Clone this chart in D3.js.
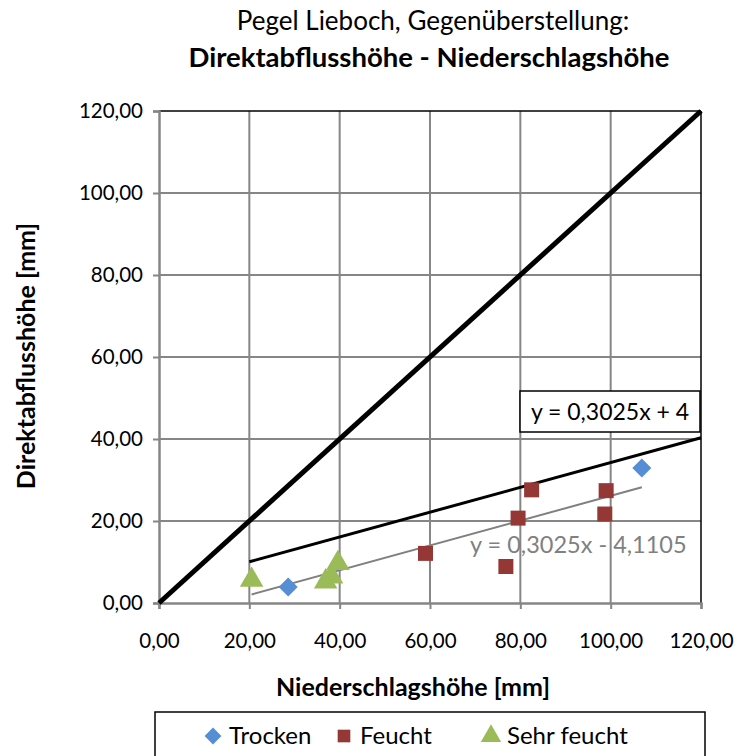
<!DOCTYPE html>
<html><head><meta charset="utf-8">
<script src="https://cdn.jsdelivr.net/npm/d3@7"></script>
<style>body{margin:0;background:#fff}svg{display:block}text{font-family:Lato,"Open Sans",sans-serif}</style>
</head><body>
<svg id="c" width="741" height="756"></svg>
<script>
const ticks = [0, 20, 40, 60, 80, 100, 120];
const trockenX = [28.6, 106.9];
const trockenY = [3.9, 32.9];
const feuchtX = [59.0, 76.8, 79.5, 82.5, 98.7, 99.0];
const feuchtY = [12.1, 8.9, 20.7, 27.6, 21.7, 27.4];
const sehrX = [20.5, 36.9, 38.2, 39.6];
const sehrY = [5.6, 5.2, 6.4, 9.7];
const trendSlope = 0.3025, trendIntercept = -4.1105;
const refSlope = 0.3025, refIntercept = 4;
const seriesNames = ["Trocken", "Feucht", "Sehr feucht"];

const svg = d3.select("#c");
const x = d3.scaleLinear().domain([0, 120]).range([159, 701]);
const y = d3.scaleLinear().domain([0, 120]).range([603, 111]);
const fmt = v => d3.format(".2f")(v).replace(".", ",");

// grid
svg.append("g").selectAll("line").data(ticks.slice(1, -1)).join("line")
  .attr("x1", d => x(d)).attr("x2", d => x(d)).attr("y1", y(0)).attr("y2", y(120))
  .attr("stroke", "#868686").attr("stroke-width", 2);
svg.append("g").selectAll("line").data(ticks.slice(1, -1)).join("line")
  .attr("y1", d => y(d)).attr("y2", d => y(d)).attr("x1", x(0)).attr("x2", x(120))
  .attr("stroke", "#868686").attr("stroke-width", 2);
// top & right border
svg.append("line").attr("x1", x(0)).attr("x2", x(120)).attr("y1", y(120)).attr("y2", y(120)).attr("stroke", "#000").attr("stroke-width", 1.5);
svg.append("line").attr("x1", x(120)).attr("x2", x(120)).attr("y1", y(0)).attr("y2", y(120)).attr("stroke", "#000").attr("stroke-width", 1.5);

// axes
const xa = svg.append("g").attr("transform", `translate(0,${y(0)})`)
  .call(d3.axisBottom(x).tickValues(ticks).tickSize(6).tickPadding(24).tickFormat(fmt));
const ya = svg.append("g").attr("transform", `translate(${x(0)},0)`)
  .call(d3.axisLeft(y).tickValues(ticks).tickSize(6).tickPadding(10).tickFormat(fmt));
[xa, ya].forEach(a => {
  a.select(".domain").attr("stroke", "#868686").attr("stroke-width", 2.5);
  a.selectAll(".tick line").attr("stroke", "#868686").attr("stroke-width", 2);
  a.selectAll(".tick text").attr("font-size", 20.5).attr("fill", "#000").style("font-family", "Lato");
});

// thick 1:1 line
const line = d3.line().x(d => x(d[0])).y(d => y(d[1]));
svg.append("path").datum([[0, 0], [120, 120]]).attr("d", line)
  .attr("stroke", "#000").attr("stroke-width", 5).attr("fill", "none");
// reference line y = 0.3025x + 4
svg.append("path").datum([20, 120].map(v => [v, refSlope * v + refIntercept])).attr("d", line)
  .attr("stroke", "#000").attr("stroke-width", 3).attr("fill", "none");
// trend line
const allX = trockenX.concat(feuchtX, sehrX);
const tx = d3.extent(allX);
svg.append("path").datum(tx.map(v => [v, trendSlope * v + trendIntercept])).attr("d", line)
  .attr("stroke", "#808080").attr("stroke-width", 2).attr("fill", "none");

// points
const colors = ["#558ED5", "#953735", "#9BBB59"];
const sym = [d3.symbolDiamond2, d3.symbolSquare, d3.symbolTriangle];
function pts(xs, ys, i, size) {
  svg.append("g").selectAll("path").data(xs.map((v, k) => [v, ys[k]])).join("path")
    .attr("transform", d => `translate(${x(d[0])},${y(d[1])})`)
    .attr("d", d3.symbol(sym[i], size)).attr("fill", colors[i]);
}
pts(trockenX, trockenY, 0, 230);
pts(feuchtX, feuchtY, 1, 225);
pts(sehrX, sehrY, 2, 240);

// equation labels
const bx = 520, by = 391;
svg.append("rect").attr("x", bx).attr("y", by).attr("width", 180).attr("height", 41)
  .attr("fill", "#fff").attr("stroke", "#000").attr("stroke-width", 1.5);
svg.append("text").attr("x", bx + 90).attr("y", by + 29).attr("text-anchor", "middle")
  .attr("font-size", 23).text("y = 0,3025x + 4");
svg.append("text").attr("x", 470).attr("y", 553).attr("font-size", 23.5).attr("fill", "#808080")
  .text("y = 0,3025x - 4,1105");

// titles
svg.append("text").attr("x", 433).attr("y", 30).attr("text-anchor", "middle").attr("font-size", 26).text("Pegel Lieboch, Gegenüberstellung:");
svg.append("text").attr("x", 429).attr("y", 67).attr("text-anchor", "middle").attr("font-size", 27.5).attr("font-weight", "bold").text("Direktabflusshöhe - Niederschlagshöhe");
svg.append("text").attr("x", 413).attr("y", 696).attr("text-anchor", "middle").attr("font-size", 25).attr("font-weight", "bold").text("Niederschlagshöhe [mm]");
svg.append("text").attr("transform", "translate(35,356) rotate(-90)").attr("text-anchor", "middle").attr("font-size", 25).attr("font-weight", "bold").text("Direktabflusshöhe [mm]");

// legend
svg.append("rect").attr("x", 155).attr("y", 712).attr("width", 550).attr("height", 60)
  .attr("fill", "#fff").attr("stroke", "#000").attr("stroke-width", 1.5);
const lx = [213, 344, 491];
seriesNames.forEach((n, i) => {
  svg.append("path").attr("transform", `translate(${lx[i]},736)`)
    .attr("d", d3.symbol(sym[i], i === 1 ? 160 : 180)).attr("fill", colors[i]);
  svg.append("text").attr("x", lx[i] + 16).attr("y", 744).attr("font-size", 24).text(n);
});
</script>
</body></html>
